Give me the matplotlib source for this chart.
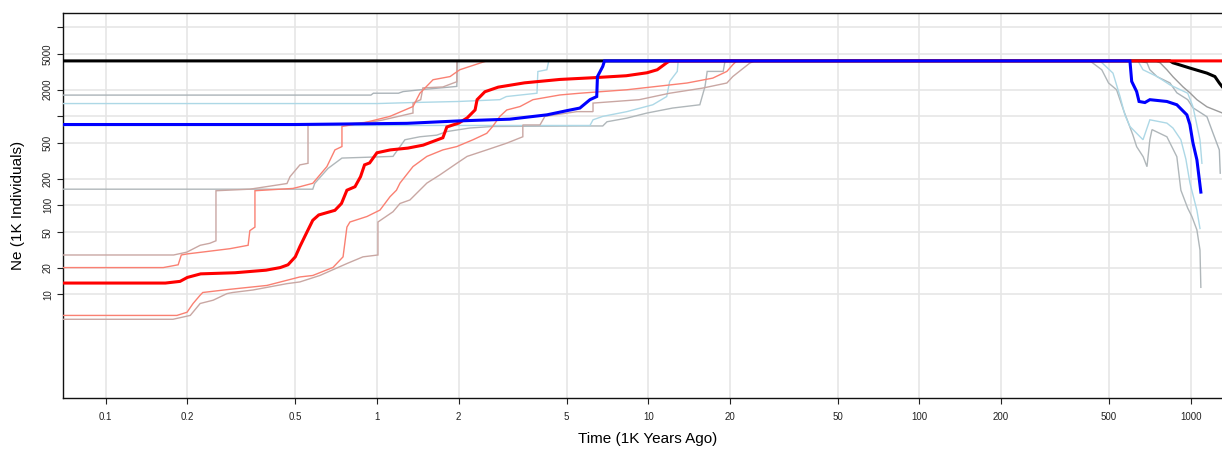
import matplotlib
matplotlib.use("Agg")
import matplotlib.pyplot as plt

plt.rcParams['font.family'] = ['Liberation Sans', 'DejaVu Sans']

# ---------------- data (time in 1K years ago, Ne in 1K individuals) -------------
x_ticks = [0.1, 0.2, 0.5, 1, 2, 5, 10, 20, 50, 100, 200, 500, 1000]
x_tick_labels = ['0.1', '0.2', '0.5', '1', '2', '5', '10', '20', '50', '100', '200', '500', '1000']
y_ticks = [10, 20, 50, 100, 200, 500, 1000, 2000, 5000, 10000]
y_tick_labels = ['10', '20', '50', '100', '200', '500', '', '2000', '5000', '']

# red population: median
red_med_t = [0.05, 0.166, 0.188, 0.2, 0.224, 0.3, 0.39, 0.44, 0.47, 0.5, 0.52, 0.55, 0.58, 0.61, 0.7,
             0.74, 0.775, 0.83, 0.87, 0.9, 0.94, 1.0, 1.12, 1.3, 1.48, 1.75, 1.81, 2.0, 2.15, 2.3,
             2.34, 2.5, 2.8, 3.5, 4.73, 6.3, 8.3, 9.9, 10.8, 11.7, 12.0, 1500]
red_med_ne = [13.4, 13.4, 14, 15.5, 17, 17.5, 18.7, 20, 21.5, 26.4, 34.5, 49, 68, 78, 88,
              105, 148, 162, 210, 285, 300, 390, 420, 440, 475, 575, 760, 840, 960, 1180,
              1540, 1890, 2130, 2380, 2600, 2720, 2860, 3090, 3340, 4000, 4200, 4200]
# red inner interval (upper / lower)
red_in_hi_t = [0.05, 0.163, 0.185, 0.19, 0.2, 0.23, 0.287, 0.335, 0.34, 0.355, 0.355, 0.49, 0.52, 0.58,
               0.6, 0.654, 0.7, 0.743, 0.743, 0.9, 1.117, 1.358, 1.44, 1.61, 1.86, 2.02, 2.4, 2.54, 1500]
red_in_hi_ne = [20, 20, 21.5, 27.7, 28.5, 30, 32.6, 35.6, 52, 57, 146, 155, 162, 177,
                200, 273, 420, 458, 770, 850, 1000, 1290, 1820, 2580, 2800, 3340, 3970, 4200, 4200]
red_in_lo_t = [0.05, 0.183, 0.1995, 0.21, 0.223, 0.228, 0.287, 0.393, 0.52, 0.58, 0.689, 0.75, 0.775,
               0.795, 0.919, 1.026, 1.117, 1.18, 1.216, 1.358, 1.528, 1.75, 1.97, 2.26, 2.54, 2.67,
               2.84, 3.01, 3.37, 3.76, 4.73, 5.6, 8.34, 13.9, 17.3, 19.5, 20.5, 21.2, 1500]
red_in_lo_ne = [5.8, 5.8, 6.3, 7.9, 9.8, 10.5, 11.4, 12.6, 15.7, 16.3, 20.1, 26.4, 57,
                65, 75, 88.5, 125, 148, 178, 273, 355, 420, 458, 546, 645, 770,
                1000, 1180, 1290, 1540, 1740, 1820, 1990, 2370, 2690, 3200, 3800, 4200, 4200]
# red outer interval (upper / lower)
red_out_hi_t = [0.05, 0.178, 0.199, 0.223, 0.242, 0.255, 0.255, 0.34, 0.466, 0.478, 0.52, 0.557, 0.557,
                0.73, 0.967, 1.05, 1.358, 1.358, 1.45, 1.477, 1.75, 1.97, 1.97, 1500]
red_out_hi_ne = [27.7, 27.7, 29.8, 35.6, 37.5, 40, 146, 152, 176, 210, 285, 297, 800,
                 810, 870, 910, 1090, 1410, 1540, 2090, 2140, 2450, 4200, 4200]
red_out_lo_t = [0.05, 0.177, 0.205, 0.223, 0.249, 0.28, 0.294, 0.349, 0.466, 0.52, 0.616, 0.775, 0.888,
                1.0085, 1.0085, 1.146, 1.216, 1.323, 1.528, 1.706, 1.97, 2.15, 2.54, 3.01, 3.45, 3.45,
                3.99, 4.16, 5.46, 6.26, 6.26, 9.27, 12.0, 15.9, 19.5, 20.5, 23.7, 24.7, 1500]
red_out_lo_ne = [5.25, 5.25, 5.8, 7.9, 8.6, 10.2, 10.5, 11.2, 13.2, 13.8, 16.3, 22.2, 26.4,
                 27.7, 65, 84.8, 105, 115, 178, 220, 297, 355, 420, 500, 590, 800,
                 800, 1000, 1130, 1130, 1410, 1540, 1820, 2080, 2370, 2800, 3970, 4200, 4200]

# blue population: median
blue_med_t = [0.05, 0.5, 1.29, 2.02, 3.09, 4.23, 5.02, 5.6, 6.1, 6.46, 6.5, 6.8, 6.9,
              597, 606, 632, 645, 678, 707, 817, 889, 968, 993, 1019, 1054, 1090]
blue_med_ne = [810, 810, 835, 890, 930, 1040, 1160, 1240, 1540, 1670, 2800, 3640, 4200,
               4200, 2470, 1900, 1470, 1430, 1540, 1470, 1350, 1040, 810, 505, 325, 141]
# blue inner interval
blue_in_hi_t = [0.05, 1.0, 1.358, 2.0, 2.84, 3.0, 3.89, 3.92, 4.23, 4.3,
                639, 667, 752, 838, 975, 1019, 1082, 1100]
blue_in_hi_ne = [1393, 1393, 1430, 1470, 1540, 1670, 1820, 3190, 3340, 4200,
                 4200, 3340, 2800, 2260, 1820, 1290, 546, 297]
blue_in_lo_t = [0.05, 6.1, 6.26, 6.8, 8.34, 10.4, 11.7, 11.8, 12.0, 12.8, 12.9,
                463, 517, 549, 572, 597, 667, 707, 817, 860, 920, 960, 993, 1054, 1082]
blue_in_lo_ne = [790, 790, 915, 1000, 1130, 1350, 1670, 1900, 2470, 3200, 4200,
                 4200, 3060, 1670, 1040, 770, 546, 915, 840, 740, 546, 330, 180, 88, 55]
# blue outer interval
blue_out_hi_t = [0.05, 0.95, 0.97, 1.2, 1.25, 1.47, 1.97, 1.98,
                 640, 690, 707, 752, 838, 889, 975, 1019, 1148, 1208, 1275, 1285]
blue_out_hi_ne = [1734, 1734, 1820, 1820, 1900, 2000, 2170, 4200,
                  4200, 4000, 3340, 2790, 2380, 1840, 1540, 1250, 990, 650, 420, 230]
blue_out_lo_t = [0.05, 0.58, 0.59, 0.66, 0.743, 1.146, 1.268, 1.44, 1.66, 1.81, 2.2, 2.67, 5.6, 6.8,
                 7.05, 8.34, 9.9, 12.3, 15.5, 16.2, 16.5, 18.9, 19.2,
                 425, 470, 498, 533, 565, 612, 632, 668, 690, 707, 720, 817, 889, 920, 975, 1010,
                 1054, 1082, 1090]
blue_out_lo_ne = [152, 152, 177, 260, 340, 355, 546, 590, 615, 675, 740, 770, 780, 780,
                  870, 955, 1090, 1240, 1350, 2170, 3200, 3200, 4200,
                  4200, 3340, 2370, 1990, 1180, 620, 457, 352, 272, 546, 710, 590, 352, 148, 93, 75,
                  53, 31.5, 12]

# black population: median and lower interval
black_med_t = [0.05, 838, 860, 993, 1148, 1228, 1275, 1304]
black_med_ne = [4200, 4200, 4000, 3490, 3060, 2800, 2370, 2170]
black_lo_t = [0.05, 740, 771, 817, 860, 936, 993, 1054, 1148, 1304]
black_lo_ne = [4200, 4200, 4000, 3340, 2790, 2150, 1840, 1540, 1280, 1095]

# ---------------- figure --------------------------------------------------------
W, H = 1222, 449
fig = plt.figure(figsize=(W / 100, H / 100), dpi=100)
ax = fig.add_axes([63 / W, 51 / H, (1233 - 63) / W, 385 / H])
ax.set_xscale('log')
ax.set_yscale('log')
ax.set_xlim(0.0696, 1432)
ax.set_ylim(0.685, 14500)

grid_c = '#E6E6E6'
for xv in x_ticks:
    ax.axvline(xv, color=grid_c, lw=1.2, zorder=0)
for yv in y_ticks:
    ax.axhline(yv, color=grid_c, lw=1.2, zorder=0)

thin = 1.0
thick = 2.2
series = [
    (black_lo_t, black_lo_ne, '#9C9C9C', thin),
    (blue_out_hi_t, blue_out_hi_ne, '#AAB3B8', thin),
    (blue_out_lo_t, blue_out_lo_ne, '#B0B7BA', thin),
    (blue_in_hi_t, blue_in_hi_ne, '#ADD8E6', thin),
    (blue_in_lo_t, blue_in_lo_ne, '#ADD8E6', thin),
    (red_out_hi_t, red_out_hi_ne, '#C9A7A3', thin),
    (red_out_lo_t, red_out_lo_ne, '#C9A7A3', thin),
    (red_in_hi_t, red_in_hi_ne, '#FA8072', thin),
    (red_in_lo_t, red_in_lo_ne, '#FA8072', thin),
    (black_med_t, black_med_ne, '#000000', thick),
    (red_med_t, red_med_ne, '#FF0000', thick),
    (blue_med_t, blue_med_ne, '#0000FF', thick),
]
for i, (t, v, c, lw) in enumerate(series):
    ax.plot(t, v, color=c, lw=lw, zorder=2 + i, solid_joinstyle='miter')

ax.minorticks_off()
ax.set_xticks(x_ticks)
ax.set_xticklabels(x_tick_labels)
ax.set_yticks(y_ticks)
ax.set_yticklabels(y_tick_labels, rotation=90, va='center')
ax.tick_params(axis='both', direction='out', length=4.3, width=0.8, labelsize=7, colors='#222222')
ax.tick_params(axis='x', pad=5.5)
ax.tick_params(axis='y', pad=3)
for s in ['left', 'bottom', 'top']:
    ax.spines[s].set_linewidth(1.0)
    ax.spines[s].set_color('#111111')
ax.spines['right'].set_visible(False)

fig.text(648 / W, 1 - 439 / H, 'Time (1K Years Ago)', ha='center', va='center', fontsize=11)
fig.text(18 / W, 1 - 205 / H, 'Ne (1K Individuals)', ha='center', va='center', fontsize=11,
         rotation=90)

fig.savefig('out.png', dpi=100)
